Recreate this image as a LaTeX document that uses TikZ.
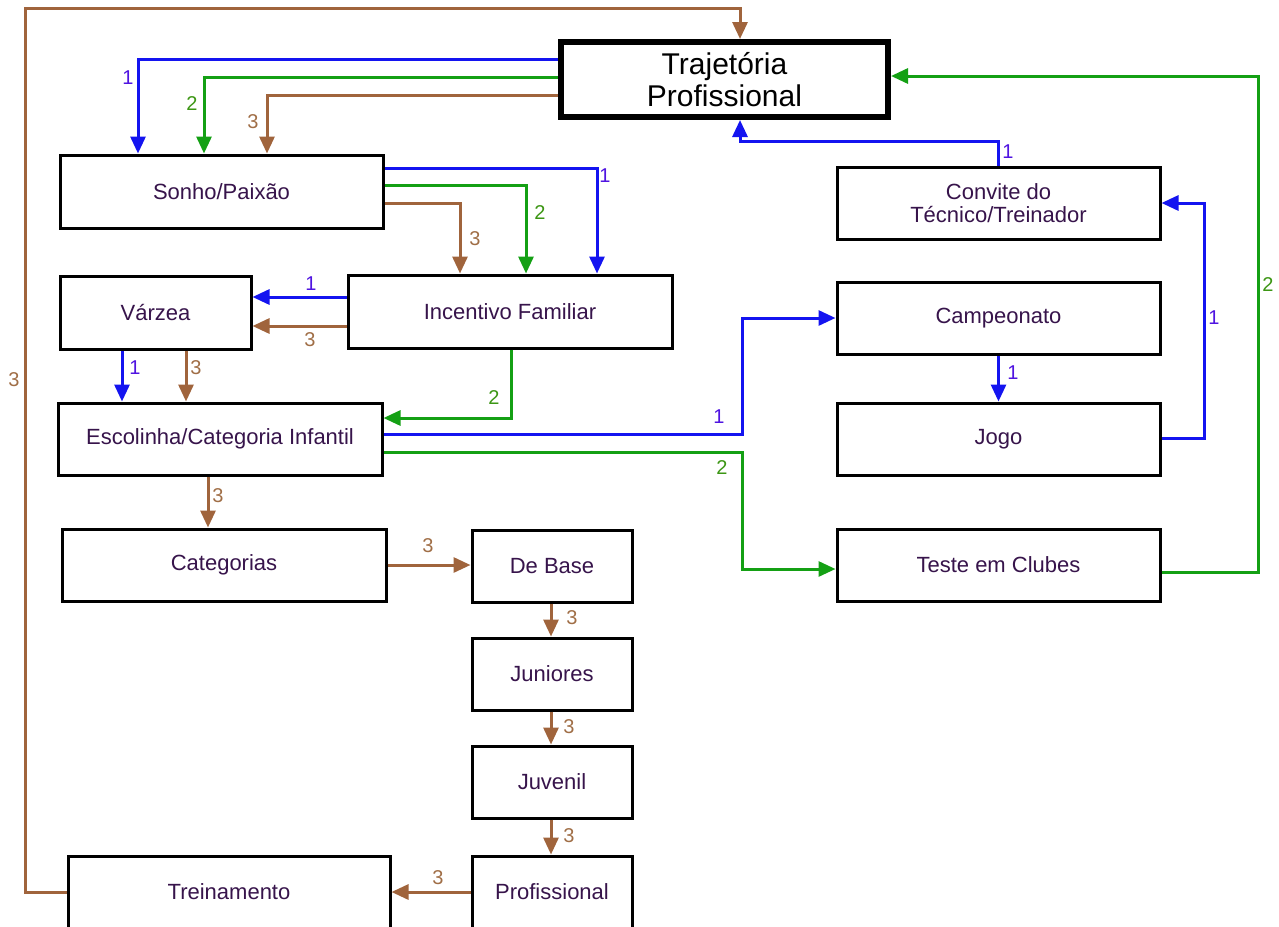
\documentclass[tikz,border=0pt]{standalone}
\usepackage{fontspec}
\setmainfont{Liberation Sans}
\usetikzlibrary{arrows.meta}

\definecolor{lnblue}{RGB}{20,20,240}
\definecolor{lngreen}{RGB}{20,160,20}
\definecolor{lnbrown}{RGB}{160,100,60}
\definecolor{lbone}{RGB}{80,20,225}
\definecolor{lbtwo}{RGB}{60,150,20}
\definecolor{lbthree}{RGB}{160,110,70}
\definecolor{boxtext}{RGB}{55,20,75}

\begin{document}
\begin{tikzpicture}[x=1pt,y=-1pt,
  box/.style={draw=black,line width=3pt,rectangle,inner sep=0pt,align=center,
    text=boxtext,font=\fontsize{22}{23}\selectfont,minimum height=72pt},
  wide/.style={box,minimum width=323pt},
  narrow/.style={box,minimum width=160pt},
  link/.style={line width=3pt,-{Triangle[length=17pt,width=15pt]}},
  bl/.style={link,draw=lnblue},
  gr/.style={link,draw=lngreen},
  br/.style={link,draw=lnbrown},
  lab/.style={inner sep=0pt,font=\fontsize{20}{20}\selectfont},
  one/.style={lab,text=lbone},
  two/.style={lab,text=lbtwo},
  three/.style={lab,text=lbthree}]

\useasboundingbox (0,0) rectangle (1279,926);
\fill[white] (0,0) rectangle (1279,926);

% boxes
\node[box,line width=6pt,minimum width=327pt,minimum height=75pt,text=black,
  font=\fontsize{30}{32}\selectfont] (traj) at (724.5,79.5) {Trajetória\\Profissional};
\node[wide,minimum height=73pt] (sonho) at (221.5,191.5) {Sonho/Paixão};
\node[wide,minimum width=324pt,minimum height=73pt] (incent) at (510,311.5) {Incentivo Familiar};
\node[box,minimum width=191pt,minimum height=73pt] (varzea) at (155.5,312.5) {Várzea};
\node[wide,minimum width=324pt] (escol) at (220,439) {Escolinha/Categoria Infantil};
\node[wide,minimum width=324pt] (categ) at (224,565) {Categorias};
\node[narrow] (debase) at (552,566) {De Base};
\node[narrow] (junior) at (552,674) {Juniores};
\node[narrow] (juvenil) at (552,782) {Juvenil};
\node[narrow] (prof) at (552,892) {Profissional};
\node[wide,minimum width=322pt] (trein) at (229,892) {Treinamento};
\node[wide] (convite) at (998.5,203) {Convite do\\Técnico/Treinador};
\node[wide] (campeo) at (998.5,318) {Campeonato};
\node[wide] (jogo) at (998.5,439) {Jogo};
\node[wide] (teste) at (998.5,565) {Teste em Clubes};

\coordinate (corner) at (25,8);

% Trajetória -> Sonho/Paixão
\draw[bl] ([yshift=20.5pt]traj.west) -| ([xshift=-83.5pt]sonho.north);
\draw[gr] ([yshift=2.5pt]traj.west) -| ([xshift=-17.5pt]sonho.north);
\draw[br] ([yshift=-15.5pt]traj.west) -| ([xshift=45.5pt]sonho.north);
\node[one] (l1) at (128,78) {1};
\node[two] (l2) at (192,104) {2};
\node[three] (l3) at (253,122) {3};

% Sonho/Paixão -> Incentivo Familiar
\draw[bl] ([yshift=23.5pt]sonho.east) -| ([xshift=87pt]incent.north);
\draw[gr] ([yshift=6.5pt]sonho.east) -| ([xshift=16pt]incent.north);
\draw[br] ([yshift=-11.5pt]sonho.east) -| ([xshift=-50pt]incent.north);
\node[one] (l4) at (605,176) {1};
\node[two] (l5) at (540,213) {2};
\node[three] (l6) at (475,239) {3};

% Incentivo Familiar -> Várzea
\draw[bl] ([yshift=14.5pt]incent.west) -- ([yshift=15.5pt]varzea.east);
\draw[br] ([yshift=-14.5pt]incent.west) -- ([yshift=-13.5pt]varzea.east);
\node[one] (l7) at (311,284) {1};
\node[three] (l8) at (310,340) {3};

% Várzea -> Escolinha
\draw[bl] ([xshift=-33.5pt]varzea.south) -- ([xshift=-98pt]escol.north);
\draw[br] ([xshift=30.5pt]varzea.south) -- ([xshift=-34pt]escol.north);
\node[one] (l9) at (135,368) {1};
\node[three] (l10) at (196,368) {3};

% Incentivo Familiar -> Escolinha
\draw[gr] ([xshift=1pt]incent.south) |- ([yshift=21pt]escol.east);
\node[two] (l11) at (494,398) {2};

% Escolinha -> Campeonato / Teste em Clubes
\draw[bl] ([yshift=5pt]escol.east) -- ++(359,0) |- (campeo.west);
\node[one] (l12) at (719,417) {1};
\draw[gr] ([yshift=-13pt]escol.east) -- ++(359,0) |- ([yshift=-4pt]teste.west);
\node[two] (l13) at (722,468) {2};

% Escolinha -> Categorias -> ... -> Treinamento
\draw[br] ([xshift=-12pt]escol.south) -- ([xshift=-16pt]categ.north);
\node[three] (l14) at (218,496) {3};
\draw[br] (categ.east) -- (categ.east -| debase.west);
\node[three] (l15) at (428,546) {3};
\draw[br] ([xshift=-1pt]debase.south) -- ([xshift=-1pt]junior.north);
\node[three] (l16) at (572,618) {3};
\draw[br] ([xshift=-1pt]junior.south) -- ([xshift=-1pt]juvenil.north);
\node[three] (l17) at (569,727) {3};
\draw[br] ([xshift=-1pt]juvenil.south) -- ([xshift=-1pt]prof.north);
\node[three] (l18) at (569,836) {3};
\draw[br] (prof.west) -- (trein.east);
\node[three] (l19) at (438,878) {3};

% Treinamento -> Trajetória
\draw[br] (trein.west) -| (corner) -| ([xshift=15.5pt]traj.north);
\node[three] (l20) at (14,380) {3};

% Campeonato -> Jogo -> Convite -> Trajetória
\draw[bl] (campeo.south) -- (jogo.north);
\node[one] (l21) at (1013,373) {1};
\draw[bl] ([yshift=1pt]jogo.east) -- ++(43,0) |- (convite.east);
\node[one] (l22) at (1214,318) {1};
\draw[bl] (convite.north) -- ++(0,-24) -| ([xshift=15.5pt]traj.south);
\node[one] (l23) at (1008,152) {1};

% Teste em Clubes -> Trajetória
\draw[gr] ([yshift=-7pt]teste.east) -- ++(97,0) |- ([yshift=3.5pt]traj.east);
\node[two] (l24) at (1268,285) {2};

\end{tikzpicture}
\end{document}
